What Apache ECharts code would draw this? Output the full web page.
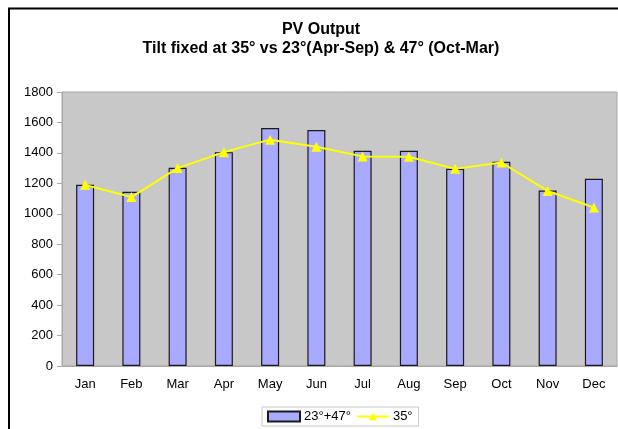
<!DOCTYPE html>
<html>
<head>
<meta charset="utf-8">
<script src="https://cdn.jsdelivr.net/npm/echarts@6/dist/echarts.min.js"></script>
<style>
  html, body { margin: 0; padding: 0; background: #fff; }
  #chart { width: 618px; height: 429px; }
</style>
</head>
<body>
<div id="chart"></div>
<script>
var months = ["Jan", "Feb", "Mar", "Apr", "May", "Jun", "Jul", "Aug", "Sep", "Oct", "Nov", "Dec"];
var seasonal = [1190, 1145, 1302, 1405, 1563, 1550, 1414, 1414, 1296, 1342, 1153, 1230];
var fixed35 = [1190, 1110, 1300, 1405, 1487, 1440, 1377, 1375, 1295, 1337, 1150, 1041];
var yTicks = { min: 0, max: 1800, step: 200 };

var myChart = echarts.init(document.getElementById("chart"));

myChart.setOption({
  animation: false,
  textStyle: { fontFamily: "Liberation Sans, Arial, sans-serif" },
  graphic: [
    {
      type: "text",
      x: 321,
      y: 20,
      style: {
        text: "PV Output\nTilt fixed at 35° vs 23°(Apr-Sep) & 47° (Oct-Mar)",
        textAlign: "center",
        fontSize: 16,
        fontWeight: "bold",
        lineHeight: 19,
        fill: "#000",
        fontFamily: "Liberation Sans, Arial, sans-serif"
      }
    },
    {
      type: "polyline",
      shape: { points: [[9, 429], [9, 8.5], [618, 8.5]] },
      style: { stroke: "#000", lineWidth: 2, fill: null }
    }
  ],
  legend: {
    left: 262,
    top: 407,
    padding: [3, 6, 3, 5],
    itemGap: 5,
    itemWidth: 32,
    itemHeight: 10,
    borderColor: "#c8c8c8",
    borderWidth: 1,
    textStyle: { fontSize: 13, color: "#000", padding: [0, 0, 0, -1] },
    data: [
      { name: "23°+47°", icon: "rect" },
      { name: "35°" }
    ]
  },
  grid: {
    left: 62,
    right: 1,
    top: 92,
    bottom: 63,
    show: true,
    backgroundColor: "#c8c8c8",
    borderColor: "#a8a8a8",
    borderWidth: 1
  },
  xAxis: {
    type: "category",
    data: months,
    axisLine: { lineStyle: { color: "#a8a8a8" } },
    axisTick: { lineStyle: { color: "#c0c0c0" }, length: 5 },
    axisLabel: { color: "#000", fontSize: 13, margin: 12 }
  },
  yAxis: {
    type: "value",
    min: yTicks.min,
    max: yTicks.max,
    interval: yTicks.step,
    splitLine: { show: false },
    axisLine: { show: true, lineStyle: { color: "#a8a8a8" } },
    axisTick: { show: true, length: 5, lineStyle: { color: "#a8a8a8" } },
    axisLabel: { color: "#000", fontSize: 13, margin: 9, formatter: function (v) { return String(v); } }
  },
  series: [
    {
      name: "23°+47°",
      type: "bar",
      data: seasonal,
      barWidth: 18,
      itemStyle: { color: "#a8aaff", borderColor: "#1a1a1a", borderWidth: 1.2 }
    },
    {
      name: "35°",
      type: "line",
      data: fixed35,
      symbol: "triangle",
      symbolSize: 10,
      lineStyle: { color: "#ffff00", width: 2 },
      itemStyle: { color: "#ffff00" }
    }
  ]
});
</script>
</body>
</html>
